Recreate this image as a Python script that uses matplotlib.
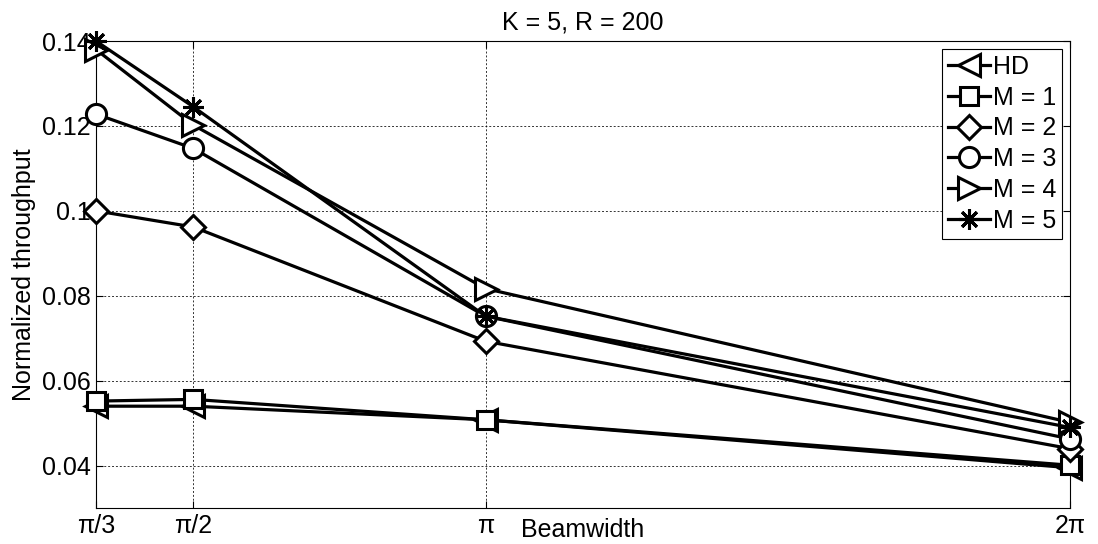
import numpy as np
import matplotlib
matplotlib.use("Agg")
import matplotlib.pyplot as plt

plt.rcParams["font.family"] = ["Liberation Sans", "DejaVu Sans"]

# beamwidths (radians) and throughput per scheme
beamwidth = [np.pi / 3, np.pi / 2, np.pi, 2 * np.pi]
tick_labels = ["π/3", "π/2", "π", "2π"]

hd = [0.0540, 0.0540, 0.0508, 0.0395]
m1 = [0.0552, 0.0556, 0.0508, 0.0401]
m2 = [0.1000, 0.0962, 0.0693, 0.0440]
m3 = [0.1228, 0.1147, 0.0752, 0.0463]
m4 = [0.1380, 0.1202, 0.0817, 0.0502]
m5 = [0.1400, 0.1245, 0.0752, 0.0490]

# marker shape and size for each scheme; (8, 2, 0) is an 8-spoke asterisk
series = [
    ("HD", hd, "<", 16),
    ("M = 1", m1, "s", 13),
    ("M = 2", m2, "D", 12.5),
    ("M = 3", m3, "o", 14.5),
    ("M = 4", m4, ">", 16),
    ("M = 5", m5, (8, 2, 0), 15),
]

fig = plt.figure(figsize=(10.98, 5.44), dpi=100)
ax = fig.add_axes([0.0874, 0.066, 0.887, 0.8586])

for name, vals, mk, ms in series:
    ax.plot(beamwidth, vals, color="black", linewidth=2.3, marker=mk,
            markersize=ms, markerfacecolor="white",
            markeredgecolor="black", markeredgewidth=2.2, label=name,
            clip_on=False, zorder=3)

ax.set_xlim(np.pi / 3, 2 * np.pi)
ax.set_ylim(0.03, 0.14)
ax.set_xticks(beamwidth)
ax.set_xticklabels(tick_labels)
ax.set_yticks([0.04, 0.06, 0.08, 0.1, 0.12, 0.14])
ax.set_yticklabels(["0.04", "0.06", "0.08", "0.1", "0.12", "0.14"])
ax.tick_params(direction="in", labelsize=18, length=5, width=0.8, pad=4,
               top=True, right=True)
ax.grid(True, color="black", linestyle=(0, (2, 2)), linewidth=0.7, alpha=0.8)
for s in ax.spines.values():
    s.set_linewidth(0.8)

ax.set_title("K = 5, R = 200", fontsize=18, pad=8)
ax.set_xlabel("Beamwidth", fontsize=18, labelpad=-14)
ax.set_ylabel("Normalized throughput", fontsize=18, labelpad=4)

leg = ax.legend(loc="upper right", fontsize=18, handlelength=1.7,
                handletextpad=0.1, labelspacing=0.27, borderpad=0.25,
                borderaxespad=0.3, fancybox=False, framealpha=1,
                edgecolor="black")
leg.get_frame().set_linewidth(0.8)

fig.savefig("out.png", dpi=100)
